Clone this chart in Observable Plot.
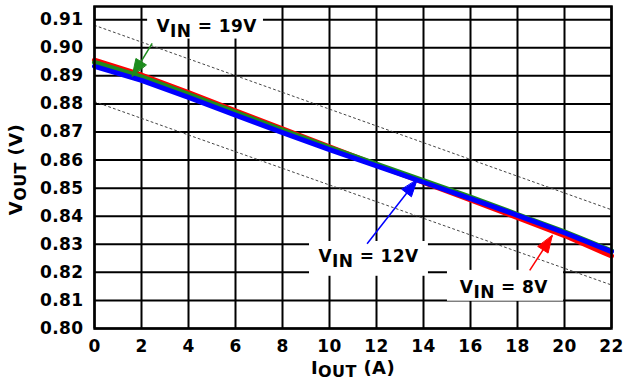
<!DOCTYPE html>
<html>
<head>
<meta charset="utf-8">
<script src="https://cdn.jsdelivr.net/npm/d3@7"></script>
<script src="https://cdn.jsdelivr.net/npm/@observablehq/plot@0.6"></script>
<style>
  html, body { margin: 0; padding: 0; background: white; }
  #chart svg { display: block; }
</style>
</head>
<body>
<div id="chart"></div>
<script>
// ---- data ----
const iout = [0, 2, 4, 6, 8, 10, 12, 14, 16, 18, 20, 22];
const vin8 = [0.8956, 0.8903, 0.8840, 0.8775, 0.8711, 0.8647, 0.8583, 0.8520, 0.8458, 0.8395, 0.8331, 0.8258];
const vin19 = [0.8948, 0.8896, 0.8834, 0.8770, 0.8707, 0.8644, 0.8586, 0.8527, 0.8468, 0.8406, 0.8344, 0.8277];
const vin12 = [0.8934, 0.8884, 0.8823, 0.8760, 0.8698, 0.8637, 0.8579, 0.8521, 0.8463, 0.8403, 0.8341, 0.8274];

// tolerance (dotted) lines
const boundX = [0, 22];
const upperBound = [0.9080, 0.8423];
const lowerBound = [0.8808, 0.8155];

const xTicks = [0, 2, 4, 6, 8, 10, 12, 14, 16, 18, 20, 22];
const yTicks = [0.80, 0.81, 0.82, 0.83, 0.84, 0.85, 0.86, 0.87, 0.88, 0.89, 0.90, 0.91];
const xDomain = [0, 22];
const yDomain = [0.80, 0.9147];

// annotation labels (text, centre position)
const labelText = ["V_IN = 19V", "V_IN = 12V", "V_IN = 8V"];
const labelX = [4.77, 11.66, 17.42];
const labelY = [0.9074, 0.8257, 0.8145];
// white boxes behind labels
const boxX1 = [2.26, 9.15, 15.02];
const boxX2 = [7.19, 14.21, 19.96];
const boxY1 = [0.9031, 0.8186, 0.8097];
const boxY2 = [0.9147, 0.8310, 0.8207];
// arrows: start (tail) and tip
const arrowX1 = [2.455, 11.60, 18.52];
const arrowY1 = [0.9016, 0.8302, 0.8207];
const arrowX2 = [1.604, 13.73, 19.48];
const arrowY2 = [0.8899, 0.8530, 0.8331];
const arrowColor = ["#1e8c1e", "#0000ff", "#ff0000"];

// axis titles
const xTitle = "I__OUT (A)";
const yTitle = "V__OUT (V)";

// ---- layout ----
const W = 625, H = 381, mL = 94, mR = 14, mT = 6, mB = 53;
const kx = (W - mL - mR) / (xDomain[1] - xDomain[0]);
const ky = (H - mT - mB) / (yDomain[1] - yDomain[0]);

const toSeries = (ys) => iout.map((x, i) => ({x, y: ys[i]}));
const bounds = (ys) => boundX.map((x, i) => ({x, y: ys[i]}));

// arrowhead triangles computed from the arrow geometry
function head(i, L = 17, hw = 6) {
  const dxp = (arrowX2[i] - arrowX1[i]) * kx;
  const dyp = -(arrowY2[i] - arrowY1[i]) * ky;
  const len = Math.hypot(dxp, dyp);
  const ux = dxp / len, uy = dyp / len;
  const bx = -ux * L, by = -uy * L;
  const px = -uy * hw, py = ux * hw;
  const pts = [[0, 0], [bx + px, by + py], [bx - px, by - py]];
  return pts.map(([a, b]) => ({x: arrowX2[i] + a / kx, y: arrowY2[i] - b / ky}));
}

const boxes = labelText.map((t, i) => ({x1: boxX1[i], x2: boxX2[i], y1: boxY1[i], y2: boxY2[i]}));
const labels = labelText.map((t, i) => ({t, x: labelX[i], y: labelY[i]}));

const marks = [
  Plot.ruleY(yTicks, {stroke: "black", strokeWidth: 2}),
  Plot.ruleX(xTicks, {stroke: "black", strokeWidth: 2}),
  Plot.line(bounds(upperBound), {x: "x", y: "y", stroke: "#444", strokeWidth: 1, strokeDasharray: "2,3"}),
  Plot.line(bounds(lowerBound), {x: "x", y: "y", stroke: "#444", strokeWidth: 1, strokeDasharray: "2,3"}),
  Plot.line(toSeries(vin8), {x: "x", y: "y", stroke: "#ff0000", strokeWidth: 5}),
  Plot.line(toSeries(vin19), {x: "x", y: "y", stroke: "#1e8c1e", strokeWidth: 5}),
  Plot.line(toSeries(vin12), {x: "x", y: "y", stroke: "#0000ff", strokeWidth: 5}),
  Plot.rect(boxes, {x1: "x1", x2: "x2", y1: "y1", y2: "y2", fill: "white"})
];
for (let i = 0; i < 3; i++) {
  marks.push(Plot.link([i], {x1: d => arrowX1[d], y1: d => arrowY1[d], x2: d => arrowX2[d], y2: d => arrowY2[d], stroke: arrowColor[i], strokeWidth: 1.5}));
  marks.push(Plot.line(head(i), {x: "x", y: "y", curve: "linear-closed", fill: arrowColor[i], stroke: arrowColor[i], strokeWidth: 1}));
}
marks.push(
  Plot.text(labels, {x: "x", y: "y", text: "t", fontSize: 17, fontWeight: "bold", fill: "black", textAnchor: "middle", lineAnchor: "middle"}),
  Plot.text([xTitle], {frameAnchor: "bottom", dy: 39.5, text: d => d, fontSize: 18, fontWeight: "bold", fill: "black", textAnchor: "middle", lineAnchor: "middle"}),
  Plot.text([yTitle], {frameAnchor: "left", dx: -78, dy: 2, rotate: -90, text: d => d, fontSize: 18, fontWeight: "bold", fill: "black", textAnchor: "middle", lineAnchor: "middle"}),
  Plot.frame({stroke: "black", strokeWidth: 2.5})
);

const chart = Plot.plot({
  width: W, height: H,
  marginLeft: mL, marginRight: mR, marginTop: mT, marginBottom: mB,
  style: {fontFamily: "DejaVu Sans", fontSize: "17px", fontWeight: "bold", color: "black", background: "white"},
  x: {domain: xDomain, ticks: xTicks, tickFormat: d3.format("d"), tickSize: 0, tickPadding: 11, label: null},
  y: {domain: yDomain, ticks: yTicks, tickFormat: d3.format(".2f"), tickSize: 0, tickPadding: 11, label: null},
  marks
});

// subscripts: "V_IN" -> V with IN lowered; "I__OUT" -> title subscript
d3.select(chart).selectAll("text").each(function () {
  const m = /^(.*?)(__|_)([A-Z]+)(.*)$/.exec(this.textContent);
  if (!m) return;
  const title = m[2] === "__";
  const sel = d3.select(this);
  sel.text(null);
  sel.append("tspan").text(m[1]);
  const sub = sel.append("tspan").attr("dy", title ? 3.5 : 5).text(m[3]);
  if (title) sub.style("font-size", "16px");
  sel.append("tspan").attr("dy", title ? -3.5 : -5).text(m[4]);
});
d3.select(chart).selectAll("text").style("letter-spacing", "0.4px");

document.getElementById("chart").appendChild(chart);
</script>
</body>
</html>
